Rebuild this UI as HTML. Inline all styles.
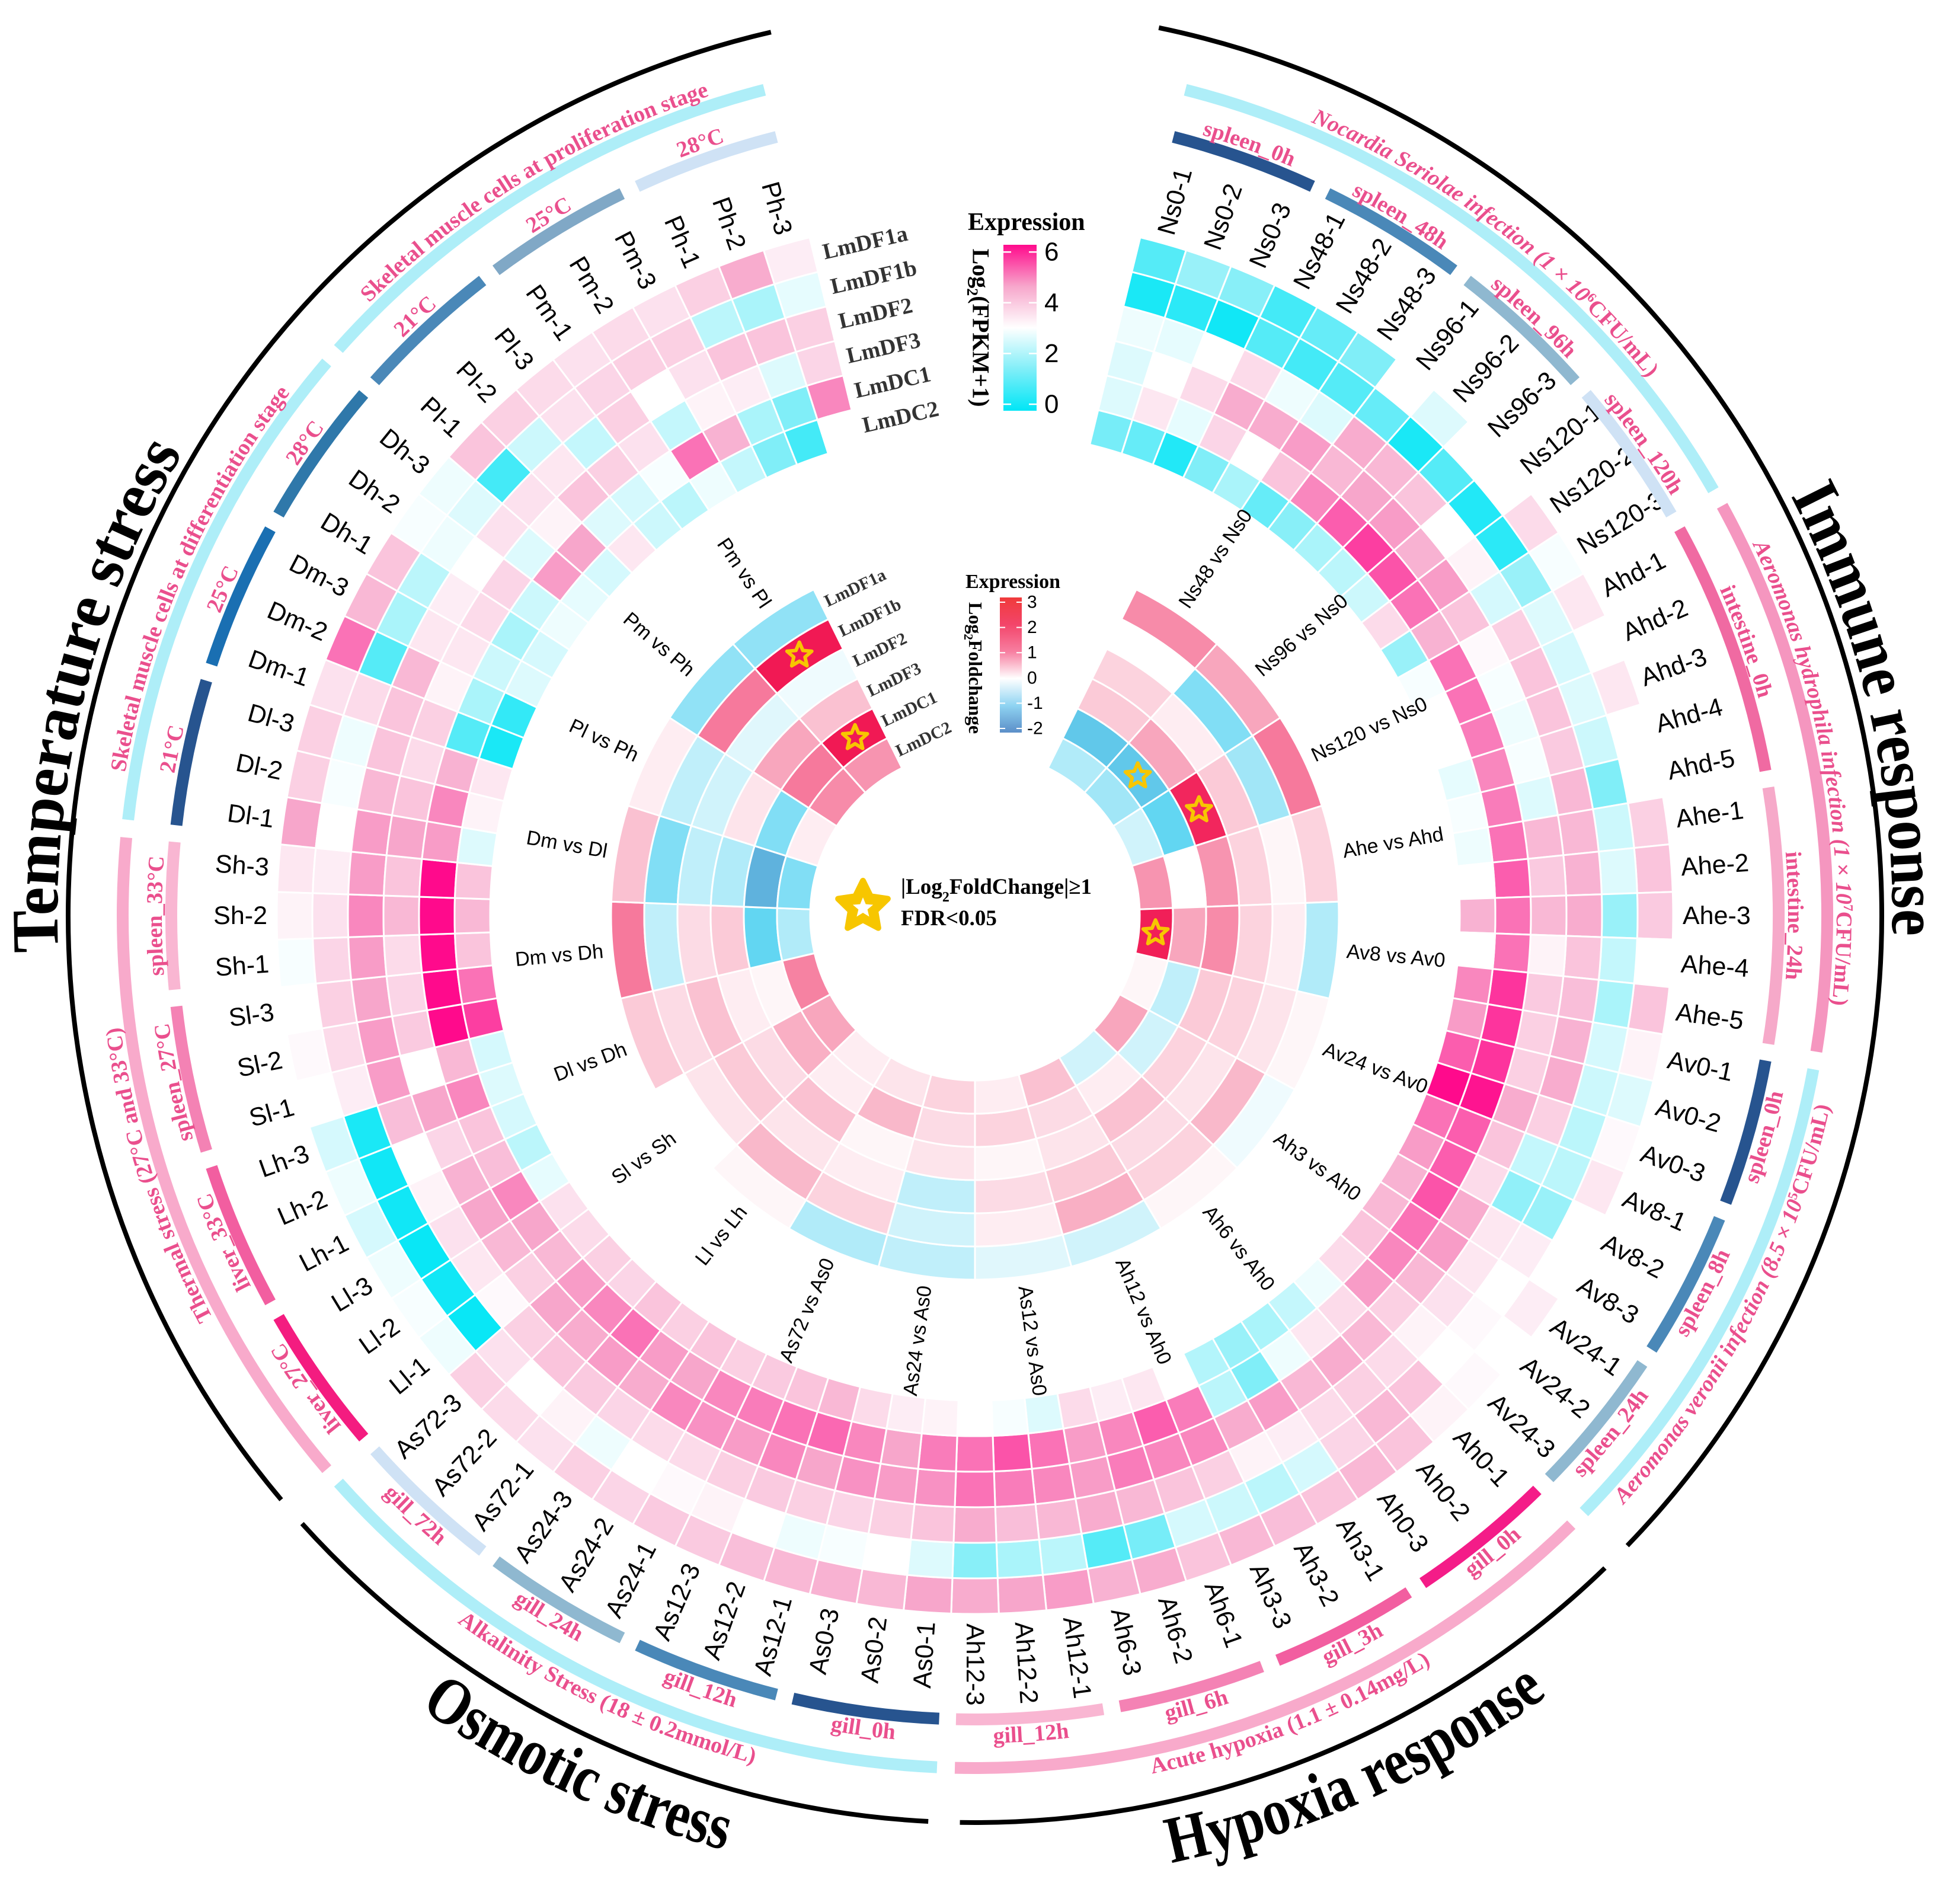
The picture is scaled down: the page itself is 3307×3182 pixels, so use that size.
<!DOCTYPE html>
<html><head><meta charset="utf-8">
<style>
html,body{margin:0;padding:0;background:#fff;}
svg{display:block;}
.ser{font-family:"Liberation Serif",serif;font-weight:bold;}
.sans{font-family:"Liberation Sans",sans-serif;}
</style></head>
<body>
<svg id="chart" xmlns="http://www.w3.org/2000/svg" width="3307" height="3182" viewBox="0 0 3307 3182">
<rect x="0" y="0" width="3307" height="3182" fill="#fff"/>
<defs>
<linearGradient id="gradExpr" x1="0" y1="1" x2="0" y2="0">
<stop offset="0" stop-color="#00e6f6"/><stop offset="0.25" stop-color="#80eef8"/><stop offset="0.5" stop-color="#ffffff"/><stop offset="0.75" stop-color="#f7a6cb"/><stop offset="1" stop-color="#ff0a8c"/>
</linearGradient>
<linearGradient id="gradFC" x1="0" y1="1" x2="0" y2="0">
<stop offset="0" stop-color="#5b8ec8"/><stop offset="0.2" stop-color="#8fd4f2"/><stop offset="0.4" stop-color="#ffffff"/><stop offset="0.6" stop-color="#f77ea0"/><stop offset="0.8" stop-color="#f3456a"/><stop offset="1" stop-color="#f03a3a"/>
</linearGradient>
</defs>
<g id="layer-cells"></g>
<g id="layer-labels"></g>
<g id="layer-legend"></g>
</svg>
<script>
const samples=["Ns0-1","Ns0-2","Ns0-3","Ns48-1","Ns48-2","Ns48-3","Ns96-1","Ns96-2","Ns96-3","Ns120-1","Ns120-2","Ns120-3",
"Ahd-1","Ahd-2","Ahd-3","Ahd-4","Ahd-5","Ahe-1","Ahe-2","Ahe-3","Ahe-4","Ahe-5",
"Av0-1","Av0-2","Av0-3","Av8-1","Av8-2","Av8-3","Av24-1","Av24-2","Av24-3",
"Ah0-1","Ah0-2","Ah0-3","Ah3-1","Ah3-2","Ah3-3","Ah6-1","Ah6-2","Ah6-3","Ah12-1","Ah12-2","Ah12-3",
"As0-1","As0-2","As0-3","As12-1","As12-2","As12-3","As24-1","As24-2","As24-3","As72-1","As72-2","As72-3",
"Ll-1","Ll-2","Ll-3","Lh-1","Lh-2","Lh-3","Sl-1","Sl-2","Sl-3","Sh-1","Sh-2","Sh-3",
"Dl-1","Dl-2","Dl-3","Dm-1","Dm-2","Dm-3","Dh-1","Dh-2","Dh-3",
"Pl-1","Pl-2","Pl-3","Pm-1","Pm-2","Pm-3","Ph-1","Ph-2","Ph-3"];
const genes=["LmDF1a","LmDF1b","LmDF2","LmDF3","LmDC1","LmDC2"];
const expr=[
[1.0,0.3,2.8,2.6,2.6,1.4],[1.8,0.5,2.7,3.0,3.4,1.2],[1.6,0.2,3.0,3.6,2.7,0.4],
[0.8,1.0,3.6,4.4,3.7,1.5],[1.2,0.8,2.8,4.4,3.0,2.0],[1.5,1.0,2.6,4.6,4.0,1.2],
[3.0,1.2,4.4,4.2,4.8,1.6],[2.6,0.3,4.2,4.5,5.2,2.0],[3.0,1.0,4.0,4.6,5.5,2.2],
[3.0,0.4,3.0,4.3,5.3,2.4],[3.6,0.5,3.2,4.6,5.0,3.6],[2.9,1.8,2.5,4.0,4.3,1.8],
[3.4,2.6,3.8,3.1,5.0,2.9],[3.0,2.5,4.0,2.9,5.0,3.0],[3.4,2.6,4.0,2.8,4.9,3.0],[3.0,2.4,3.9,2.9,4.8,2.7],[3.0,1.5,4.2,2.6,4.9,2.9],
[3.8,2.4,4.2,4.2,5.0,2.8],[4.0,2.6,4.3,3.9,5.2,3.0],[3.9,1.8,4.4,4.2,5.0,4.3],[3.0,2.3,4.0,3.2,5.0,3.0],[4.0,2.0,4.1,3.9,5.6,4.8],
[3.2,2.5,4.3,3.8,5.6,4.6],[2.6,2.4,4.4,3.8,5.6,5.2],[3.1,2.2,3.8,4.4,5.9,6.0],
[3.4,2.2,2.3,4.0,5.2,5.0],[3.0,1.8,1.7,3.6,5.2,4.6],[3.0,3.3,3.4,4.4,5.3,4.3],
[3.3,3.0,3.4,4.6,5.0,4.2],[3.0,3.1,3.5,4.2,4.8,4.0],[3.1,3.0,3.2,3.8,4.6,3.6],
[3.2,4.0,3.6,4.2,3.6,2.8],[4.0,4.2,3.8,4.4,3.4,2.3],[4.2,3.7,3.6,4.2,2.8,2.0],
[4.0,2.5,3.3,4.6,1.5,1.8],[4.1,2.2,3.2,4.4,2.2,2.1],[4.2,2.4,3.8,4.8,4.9,3.0],
[4.0,2.5,4.0,4.8,5.2,3.4],[4.4,1.4,4.2,4.9,4.8,3.3],[4.3,1.0,4.4,4.6,4.6,3.6],
[4.6,2.2,4.2,4.8,5.0,2.6],[4.5,2.0,4.1,4.9,5.3,2.9],[4.4,1.6,4.4,5.0,5.0,3.0],
[4.5,2.6,4.0,4.7,4.9,3.2],[4.2,3.0,3.8,4.6,4.5,3.3],[4.3,2.9,3.7,4.7,4.8,3.6],
[4.2,2.8,3.8,4.5,5.1,4.2],[4.1,3.0,3.9,4.8,5.0,4.0],[3.9,3.2,3.8,4.6,4.9,3.9],
[3.9,3.1,3.6,4.7,4.8,3.8],[3.7,3.0,3.6,4.8,4.5,4.0],[3.8,2.8,3.7,4.4,4.6,3.8],
[3.5,3.2,3.9,4.6,5.0,4.0],[3.6,3.0,4.0,4.4,4.8,3.7],[3.8,3.5,3.8,4.5,4.6,3.8],
[2.8,0.1,3.1,3.8,4.2,3.6],[2.9,0.2,3.4,4.2,4.5,3.5],[2.8,0.1,3.5,4.5,4.8,2.7],
[2.5,0.2,3.2,4.3,4.1,2.2],[2.8,0.2,3.0,3.7,4.0,2.5],[2.5,0.3,4.1,4.5,4.8,2.6],
[3.0,3.3,4.6,3.0,4.2,2.5],[3.1,3.6,4.6,3.9,6.0,5.5],[3.0,3.8,4.5,3.7,6.0,5.0],
[2.9,3.7,4.6,3.6,6.0,4.0],[3.2,3.5,4.8,4.2,6.0,4.2],[3.4,3.3,4.6,4.0,6.0,4.0],
[4.5,3.0,4.6,4.5,4.6,2.6],[3.8,2.9,4.2,4.0,4.8,3.2],[3.8,2.8,4.0,3.6,4.3,3.4],
[3.5,3.6,4.0,3.8,1.0,0.3],[5.0,1.0,4.2,3.2,2.0,0.6],[4.2,2.0,3.4,3.4,2.4,2.6],
[4.0,2.2,3.3,3.6,2.0,2.5],[2.9,2.8,3.0,3.7,2.4,2.8],[2.8,2.6,3.5,2.6,4.6,2.7],
[4.0,0.8,3.5,3.2,4.5,2.5],[3.8,2.4,3.4,4.0,2.6,3.4],[3.6,3.5,2.3,3.8,2.5,2.4],
[3.5,3.7,3.8,3.5,2.9,2.2],[3.6,3.8,3.0,2.3,5.0,2.8],[3.5,3.8,3.5,3.2,4.3,2.3],
[3.8,2.2,4.0,3.3,2.0,1.5],[4.4,2.0,4.0,2.6,1.5,0.8],[3.3,2.7,3.8,3.7,4.8,3.0]
];
const comparisons=["Ns48 vs Ns0","Ns96 vs Ns0","Ns120 vs Ns0","Ahe vs Ahd","Av8 vs Av0","Av24 vs Av0","Ah3 vs Ah0","Ah6 vs Ah0","Ah12 vs Ah0","As12 vs As0","As24 vs As0","As72 vs As0","Ll vs Lh","Sl vs Sh","Dl vs Dh","Dm vs Dh","Dm vs Dl","Pl vs Ph","Pm vs Ph","Pm vs Pl"];
const fc=[
[1.3,0.0,0.5,0.6,-1.2,-0.5],[1.0,-0.8,0.2,1.0,-1.2,-0.6],[1.5,-0.6,0.6,2.6,-1.0,-0.3],[0.5,0.1,0.5,1.2,0.0,1.2],
[-0.5,0.2,0.5,1.3,1.0,2.7],[0.1,0.3,0.5,0.6,-0.4,0.1],[-0.1,0.8,0.3,0.5,-0.3,1.0],[0.1,0.5,0.4,0.7,0.2,-0.3],
[-0.3,0.9,0.6,0.3,0.4,0.7],[-0.2,0.2,0.4,0.1,0.5,0.2],[-0.4,-0.3,-0.4,0.3,0.4,0.5],[-0.5,0.5,0.2,0.1,0.8,0.3],
[0.1,0.8,0.3,0.7,0.2,0.2],[0.0,0.3,0.6,0.4,0.9,1.0],[0.6,0.4,0.7,0.2,0.1,1.4],[1.5,-0.4,0.4,0.6,-1.0,-0.5],
[0.7,-0.8,-0.4,-0.5,-1.5,-0.8],[0.2,-0.4,-0.3,0.3,-0.8,0.2],[-0.7,1.5,-0.2,1.0,1.5,1.3],[-0.7,2.8,-0.1,0.7,2.8,1.2]];
const starCells=[[1,4],[2,3],[4,5],[19,1],[19,4]];
const exprTicks=[0,2,4,6];
const fcTicks=[-2,-1,0,1,2,3];
const groups=[
["Nocardia Seriolae infection (1 × 10|6|CFU/mL)",0,11,"#aeeef8"],
["Aeromonas hydrophila infection (1 × 10|7|CFU/mL)",12,21,"#f596bf"],
["Aeromonas veronii infection (8.5 × 10|5|CFU/mL)",22,30,"#aeeef8"],
["Acute hypoxia (1.1 ± 0.14mg/L)",31,42,"#f8aacb"],
["Alkalinity Stress (18 ± 0.2mmol/L)",43,54,"#aeeef8"],
["Thermal stress (27°C and 33°C)",55,66,"#f8aacb"],
["Skeletal muscle cells at differentiation stage",67,75,"#aeeef8"],
["Skeletal muscle cells at proliferation stage",76,84,"#aeeef8"]];
const conditions=[
["spleen_0h",0,2,"#27548f"],["spleen_48h",3,5,"#4a88b8"],["spleen_96h",6,8,"#8fb8d0"],["spleen_120h",9,11,"#cfe2f5"],
["intestine_0h",12,16,"#f06aa2"],["intestine_24h",17,21,"#f6a9c9"],
["spleen_0h",22,24,"#27548f"],["spleen_8h",25,27,"#4a88b8"],["spleen_24h",28,30,"#8fb8d0"],
["gill_0h",31,33,"#f41c88"],["gill_3h",34,36,"#f25ea0"],["gill_6h",37,39,"#f482b4"],["gill_12h",40,42,"#f9b6d2"],
["gill_0h",43,45,"#27548f"],["gill_12h",46,48,"#4a88b8"],["gill_24h",49,51,"#8fb8d0"],["gill_72h",52,54,"#cfe2f5"],
["liver_27°C",55,57,"#f41c80"],["liver_33°C",58,60,"#f25ea0"],["spleen_27°C",61,63,"#f482b4"],["spleen_33°C",64,66,"#f9b6d2"],
["21°C",67,69,"#27548f"],["25°C",70,72,"#1a6fb2"],["28°C",73,75,"#2f78aa"],
["21°C",76,78,"#4a88b8"],["25°C",79,81,"#80a8c6"],["28°C",82,84,"#cfe2f5"]];
const categories=[["Immune response",0,30,77,770],["Hypoxia response",31,42,156,700],["Osmotic stress",43,54,205,570],["Temperature stress",55,84,284,880]];

const NS="http://www.w3.org/2000/svg";
const cx=1645, cy=1545;
const step=3.913, a0s=15.65;
const rOut=1178, ringW=60;
const fcStart=26.3, fcW=15.37, fcOut=614, fcRing=56;
const condR=1356, groupR=1438, blackR=1530;
const cellsG=document.getElementById('layer-cells');
const labG=document.getElementById('layer-labels');
const legG=document.getElementById('layer-legend');
function el(t,attrs,parent){const e=document.createElementNS(NS,t);for(const k in attrs)e.setAttribute(k,attrs[k]);if(parent)parent.appendChild(e);return e;}
function pt(r,a){const t=a*Math.PI/180;return [cx+r*Math.sin(t),cy-r*Math.cos(t)];}
function sector(ri,ro,a0,a1){const p1=pt(ro,a0),p2=pt(ro,a1),p3=pt(ri,a1),p4=pt(ri,a0);const L=(a1-a0)>180?1:0;
return `M${p1[0]},${p1[1]} A${ro},${ro} 0 ${L} 1 ${p2[0]},${p2[1]} L${p3[0]},${p3[1]} A${ri},${ri} 0 ${L} 0 ${p4[0]},${p4[1]} Z`;}
function hex(h){return [parseInt(h.substr(1,2),16),parseInt(h.substr(3,2),16),parseInt(h.substr(5,2),16)];}
function scale(stops,v){if(v<=stops[0][0])return stops[0][1];if(v>=stops[stops.length-1][0])return stops[stops.length-1][1];
for(let i=0;i<stops.length-1;i++){const[a,ca]=stops[i],[b,cb]=stops[i+1];if(v>=a&&v<=b){const t=(v-a)/(b-a);const A=hex(ca),B=hex(cb);
return `rgb(${Math.round(A[0]+(B[0]-A[0])*t)},${Math.round(A[1]+(B[1]-A[1])*t)},${Math.round(A[2]+(B[2]-A[2])*t)})`;}}}
const exprStops=[[0,"#00e6f6"],[1.5,"#80eef8"],[3,"#ffffff"],[4.5,"#f7a6cb"],[6,"#ff0a8c"]];
const fcStops=[[-2,"#5b8ec8"],[-1,"#62d6f2"],[0,"#ffffff"],[1,"#f8a6bd"],[2,"#f44c7a"],[3,"#f00c4a"]];
function sampleAngle(i){return a0s+i*step;}
function fcAngle(j){return fcStart+(j+0.5)*fcW;}

expr.forEach((row,i)=>{const a=sampleAngle(i);row.forEach((v,k)=>{
 const ro=rOut-k*ringW, ri=ro-ringW;
 const p=el('path',{d:sector(ri,ro,a-step/2,a+step/2),fill:scale(exprStops,v),stroke:'#fff','stroke-width':3},cellsG);
 
 
});});
fc.forEach((row,j)=>{const a=fcAngle(j);row.forEach((v,k)=>{
 const ro=fcOut-k*fcRing, ri=ro-fcRing;
 const p=el('path',{d:sector(ri,ro,a-fcW/2,a+fcW/2),fill:scale(fcStops,v),stroke:'#fff','stroke-width':3},cellsG);
 
 
});});
function starPath(x,y,R,r){let d='';for(let i=0;i<10;i++){const rr=i%2?r:R;const t=(i*36-90)*Math.PI/180;d+=(i?'L':'M')+(x+rr*Math.cos(t))+','+(y+rr*Math.sin(t));}return d+'Z';}
starCells.forEach(([j,k])=>{const rc=fcOut-k*fcRing-fcRing/2;const p=pt(rc,fcAngle(j));
 const s=el('path',{d:starPath(p[0],p[1],22,10),fill:'none',stroke:'#f7c600','stroke-width':6,'stroke-linejoin':'round'},cellsG);
 
 
});
function radial(text,a,r,size,name){
 let t;
 if(a<=180.5){t=el('text',{transform:`translate(${cx},${cy}) rotate(${a-90})`,x:r,y:0,'text-anchor':'start','dominant-baseline':'central','font-size':size,class:'sans',fill:'#000'},labG);}
 else{t=el('text',{transform:`translate(${cx},${cy}) rotate(${a+90})`,x:-r,y:0,'text-anchor':'end','dominant-baseline':'central','font-size':size,class:'sans',fill:'#000'},labG);}
 t.textContent=text;
 
 
}
samples.forEach((s,i)=>radial(s,sampleAngle(i),1194,43,'sample-label-'+s));
comparisons.forEach((c,j)=>radial(c,fcAngle(j),630,34,'comparison-label-'+c.replace(/ /g,'-')));
genes.forEach((g,k)=>{
 const rc=rOut-k*ringW-ringW/2;const a=sampleAngle(84)+step/2+0.8;
 const t=el('text',{transform:`translate(${cx},${cy}) rotate(${a})`,x:0,y:-rc,'dominant-baseline':'central','font-size':38,class:'ser',fill:'#333'},labG);
 t.textContent=g;
 
 
 const rc2=fcOut-k*fcRing-fcRing/2;const a2=fcStart+20*fcW+0.8;
 const t2=el('text',{transform:`translate(${cx},${cy}) rotate(${a2})`,x:0,y:-rc2,'dominant-baseline':'central','font-size':29,class:'ser',fill:'#333'},labG);
 t2.textContent=g;
 
 
});
function arcStroke(r,a0,a1,color,w,name){const p1=pt(r,a0),p2=pt(r,a1);const L=(a1-a0)>180?1:0;
 const p=el('path',{d:`M${p1[0]},${p1[1]} A${r},${r} 0 ${L} 1 ${p2[0]},${p2[1]}`,fill:'none',stroke:color,'stroke-width':w},labG);
 
 }
let pid=0;
function arcText(str,r,mid,ccw,size,color,name,len,italicWords){
 const id='tp'+(pid++);const span=60;
 let d;
 if(!ccw){const p1=pt(r,mid-span),p2=pt(r,mid+span);d=`M${p1[0]},${p1[1]} A${r},${r} 0 0 1 ${p2[0]},${p2[1]}`;}
 else{const p1=pt(r,mid+span),p2=pt(r,mid-span);d=`M${p1[0]},${p1[1]} A${r},${r} 0 0 0 ${p2[0]},${p2[1]}`;}
 el('path',{id:id,d:d,fill:'none',stroke:'none'},labG);
 const t=el('text',{'font-size':size,class:'ser',fill:color},labG);
 
 
 const tp=el('textPath',{href:'#'+id,startOffset:'50%','text-anchor':'middle'},t);
 if(len){tp.setAttribute('textLength',len);tp.setAttribute('lengthAdjust','spacingAndGlyphs');}
 const parts=str.split('|');
 parts.forEach((p,i)=>{const ts=el('tspan',{},tp);
  if(i%2===1){ts.setAttribute('baseline-shift','super');ts.setAttribute('font-size',size*0.6);}
  ts.textContent=p;
  if(italicWords&&i===0)ts.setAttribute('font-style','italic');});
}
groups.forEach(([n,s,e,c])=>{
 const a0=sampleAngle(s)-step/2+0.6,a1=sampleAngle(e)+step/2-0.6;
 arcStroke(groupR,a0,a1,c,20,'group-arc-'+n.split(' ')[0].toLowerCase());
 const mid=(a0+a1)/2;const ccw=mid>90&&mid<230;
 arcText(n,ccw?groupR+40:groupR+16,mid,ccw,38,'#ea4f8d','group-label',null,/Nocardia|Aeromonas/.test(n));
});
conditions.forEach(([n,s,e,c])=>{
 const a0=sampleAngle(s)-step/2+0.6,a1=sampleAngle(e)+step/2-0.6;
 arcStroke(condR,a0,a1,c,20,'condition-arc-'+n);
 const mid=(a0+a1)/2;const ccw=mid>90&&mid<230;
 arcText(n,ccw?condR+40:condR+16,mid,ccw,38,'#ea4f8d','condition-label-'+n,null,false);
});
categories.forEach(([n,s,e,mid,len])=>{
 const a0=(s===0?11.7:sampleAngle(s)-step/2+1),a1=(e===84?347:sampleAngle(e)+step/2-1);
 arcStroke(blackR,a0,a1,'#000',8,'category-arc-'+n.split(' ')[0].toLowerCase());
 const ccw=mid>90&&mid<230;
 arcText(n,ccw?1632:1548,mid,ccw,112,'#000','category-label-'+n.split(' ')[0].toLowerCase(),len,false);
});
(function(){
 const t=el('text',{x:1633,y:388,'font-size':42,class:'ser',fill:'#000'},legG);t.textContent='Expression';
 
 
 const r=el('rect',{x:1693,y:413,width:56,height:280,fill:'url(#gradExpr)'},legG);
 
 
 exprTicks.forEach(v=>{const y=682-v*42.8;
  el('line',{x1:1693,x2:1706,y1:y,y2:y,stroke:'#fff','stroke-width':2.5},legG);
  el('line',{x1:1736,x2:1749,y1:y,y2:y,stroke:'#fff','stroke-width':2.5},legG);
  const tl=el('text',{x:1762,y:y,'dominant-baseline':'central','font-size':44,class:'sans',fill:'#000'},legG);tl.textContent=v;
  
  });
 const lt=el('text',{transform:'translate(1655,553) rotate(90)','text-anchor':'middle','dominant-baseline':'central','font-size':40,class:'ser',fill:'#000'},legG);
 lt.innerHTML='Log<tspan baseline-shift="sub" font-size="26">2</tspan>(FPKM+1)';
 
 
})();
(function(){
 const t=el('text',{x:1629,y:992,'font-size':34,class:'ser',fill:'#000'},legG);t.textContent='Expression';
 
 
 const r=el('rect',{x:1687,y:1008,width:37,height:228,fill:'url(#gradFC)'},legG);
 
 
 fcTicks.forEach(v=>{const y=1016+(3-v)*42.6;
  el('line',{x1:1687,x2:1696,y1:y,y2:y,stroke:'#fff','stroke-width':2},legG);
  el('line',{x1:1715,x2:1724,y1:y,y2:y,stroke:'#fff','stroke-width':2},legG);
  const tl=el('text',{x:1733,y:y,'dominant-baseline':'central','font-size':30,class:'sans',fill:'#000'},legG);tl.textContent=v;
  
  });
 const lt=el('text',{transform:'translate(1646,1127) rotate(90)','text-anchor':'middle','dominant-baseline':'central','font-size':32,class:'ser',fill:'#000'},legG);
 lt.innerHTML='Log<tspan baseline-shift="sub" font-size="21">2</tspan>Foldchange';
 
 
 const s1=el('path',{d:starPath(1456,1530,44,22),fill:'#f7c600',stroke:'#f7c600','stroke-width':10,'stroke-linejoin':'round'},legG);
 
 
 el('path',{d:starPath(1456,1532,18,8),fill:'#fff'},legG);
 const t1=el('text',{x:1520,y:1508,'font-size':37,class:'ser',fill:'#000'},legG);
 t1.innerHTML='|Log<tspan baseline-shift="sub" font-size="24">2</tspan>FoldChange|≥1';
 
 
 const t2=el('text',{x:1520,y:1561,'font-size':37,class:'ser',fill:'#000'},legG);t2.textContent='FDR<0.05';
 
 
})();
</script>
</body></html>
